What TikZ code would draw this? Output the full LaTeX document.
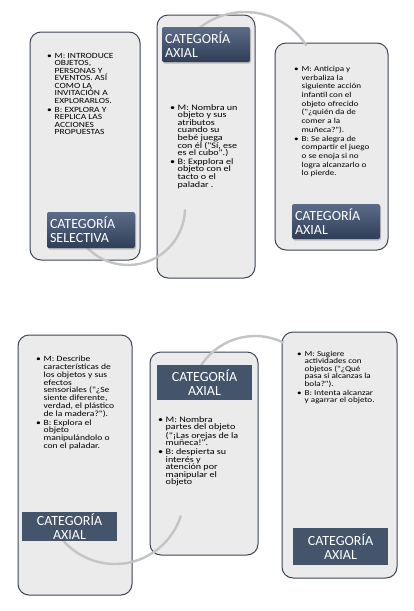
\documentclass[tikz,border=0pt]{standalone}
\usepackage{fontspec}
\setmainfont{Carlito}
\newfontfamily\bodyfont[FakeStretch=1.2]{Carlito}
\usetikzlibrary{shadows}
\definecolor{boxfill}{HTML}{EBEBEB}
\definecolor{boxline}{HTML}{3D4656}
\definecolor{labtop}{HTML}{5C6C88}
\definecolor{labbot}{HTML}{2F3D58}
\definecolor{labflat}{HTML}{44546A}
\definecolor{arcgray}{HTML}{C4C4C4}
\newcommand{\bitem}[1]{\makebox[7.5pt][l]{\textbullet}#1}
\newcommand{\bcont}[1]{\hspace*{7.5pt}#1}
\begin{document}
\begin{tikzpicture}[x=1pt,y=-1pt,
  panel/.style={draw=boxline, line width=1pt, fill=boxfill, rounded corners=11pt, inner sep=0pt},
  glabel/.style={rectangle, rounded corners=2pt, top color=labtop, bottom color=labbot, draw=none, text=white,
    font=\fontsize{14}{14}\selectfont, align=left, inner sep=3pt, text width=82pt,
    drop shadow={shadow xshift=1pt, shadow yshift=-1.5pt, opacity=0.45}},
  flabel/.style={rectangle, fill=labflat, text=white, font=\fontsize{14}{13.5}\selectfont, align=center,
    inner sep=2pt, minimum width=95pt},
  blist/.style={anchor=north west, align=left, inner sep=0pt, text=black},
  ring/.style={draw=arcgray, line width=2.4pt, line cap=round}]

\useasboundingbox (0,0) rectangle (413,611);
\fill[white] (0,0) rectangle (413,611);

% panels
\node[panel, minimum width=110pt, minimum height=228pt] (b1) at (85,146) {};
\node[panel, minimum width=98pt,  minimum height=263pt] (b2) at (206,146.5) {};
\node[panel, minimum width=113pt, minimum height=207pt] (b3) at (331.5,146.5) {};
\node[panel, minimum width=114pt, minimum height=260pt] (b4) at (75,465) {};
\node[panel, minimum width=108pt, minimum height=203pt] (b5) at (204,453.5) {};
\node[panel, minimum width=115pt, minimum height=246pt] (b6) at (339.5,455) {};

% arcs
\draw[ring] (128,208) ++(150:57) arc[start angle=150, end angle=2, radius=57];
\draw[ring] (245,85) ++(-128:73) arc[start angle=-128, end angle=-33, radius=73];
\draw[ring] (115,495) ++(150:69) arc[start angle=150, end angle=18, radius=69];
\draw[ring] (255,400) ++(-150:64) arc[start angle=-150, end angle=-64, radius=64];

% labels
\node[glabel, minimum height=36pt] (l1) at (91,230) {CATEGORÍA\\SELECTIVA};
\node[glabel, minimum height=35pt] (l2) at (206,44.5) {CATEGORÍA\\AXIAL};
\node[glabel, minimum height=35pt] (l3) at (336,221.5) {CATEGORÍA\\AXIAL};
\node[flabel, minimum height=27pt] (l4) at (69.5,526.5) {CATEGORÍA\\AXIAL};
\node[flabel, minimum height=35pt] (l5) at (204.5,382.5) {CATEGORÍA\\AXIAL};
\node[flabel, minimum height=37pt] (l6) at (340.5,546.5) {CATEGORÍA\\AXIAL};

% texts
\node[blist, font=\bodyfont\fontsize{7.9}{7.5}\selectfont] (t1) at (47,53) {%
\bitem{M: INTRODUCE}\\
\bcont{OBJETOS,}\\
\bcont{PERSONAS Y}\\
\bcont{EVENTOS. ASÍ}\\
\bcont{COMO LA}\\
\bcont{INVITACIÓN A}\\
\bcont{EXPLORARLOS.}\\[1.5pt]
\bitem{B: EXPLORA Y}\\
\bcont{REPLICA LAS}\\
\bcont{ACCIONES}\\
\bcont{PROPUESTAS}};

\node[blist, font=\bodyfont\fontsize{8.4}{7.6}\selectfont] (t2) at (170,104) {%
\bitem{M: Nombra un}\\
\bcont{objeto y sus}\\
\bcont{atributos}\\
\bcont{cuando su}\\
\bcont{bebé juega}\\
\bcont{con él ("Sí, ese}\\
\bcont{es el cubo".)}\\[1pt]
\bitem{B: Expplora el}\\
\bcont{objeto con el}\\
\bcont{tacto o el}\\
\bcont{paladar .}};

\node[blist, font=\bodyfont\fontsize{7.6}{8.7}\selectfont] (t3) at (294,66) {%
\bitem{M: Anticipa y}\\
\bcont{verbaliza la}\\
\bcont{siguiente acción}\\
\bcont{infantil con el}\\
\bcont{objeto ofrecido}\\
\bcont{("¿quién da de}\\
\bcont{comer a la}\\
\bcont{muñeca?").}\\
\bitem{B: Se alegra de}\\
\bcont{compartir el juego}\\
\bcont{o se enoja si no}\\
\bcont{logra alcanzarlo o}\\
\bcont{lo pierde.}};

\node[blist, font=\bodyfont\fontsize{8}{7.8}\selectfont] (t4) at (36,356) {%
\bitem{M: Describe}\\
\bcont{características de}\\
\bcont{los objetos y sus}\\
\bcont{efectos}\\
\bcont{sensoriales ("¿Se}\\
\bcont{siente diferente,}\\
\bcont{verdad, el plástico}\\
\bcont{de la madera?").}\\[1pt]
\bitem{B: Explora el}\\
\bcont{objeto}\\
\bcont{manipulándolo o}\\
\bcont{con el paladar.}};

\node[blist, font=\bodyfont\fontsize{8.4}{7.5}\selectfont] (t5) at (158,416) {%
\bitem{M: Nombra}\\
\bcont{partes del objeto}\\
\bcont{("¡Las orejas de la}\\
\bcont{muñeca!".}\\[1.5pt]
\bitem{B: despierta su}\\
\bcont{interés y}\\
\bcont{atención por}\\
\bcont{manipular el}\\
\bcont{objeto}};

\node[blist, font=\bodyfont\fontsize{7.6}{7.5}\selectfont] (t6) at (297,351) {%
\bitem{M: Sugiere}\\
\bcont{actividades con}\\
\bcont{objetos ("¿Qué}\\
\bcont{pasa si alcanzas la}\\
\bcont{bola?").}\\[1.5pt]
\bitem{B: Intenta alcanzar}\\
\bcont{y agarrar el objeto.}};

\end{tikzpicture}
\end{document}
